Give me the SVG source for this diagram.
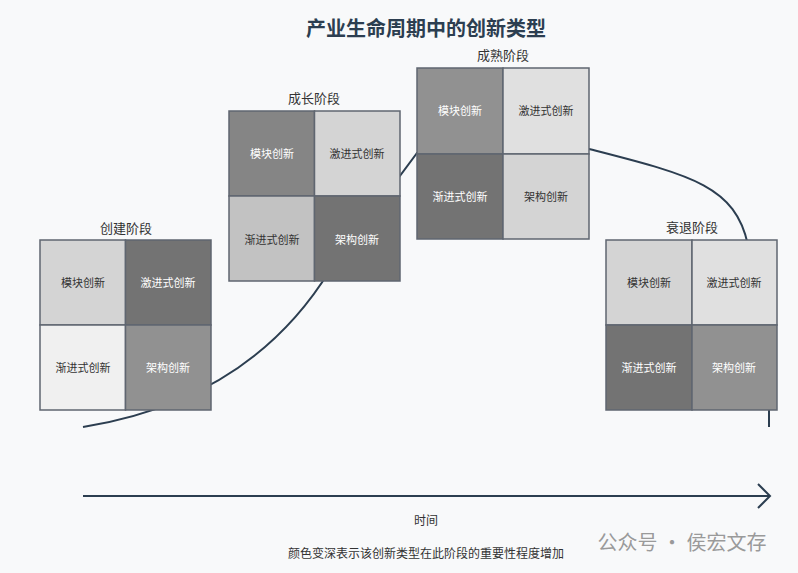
<svg xmlns="http://www.w3.org/2000/svg" width="798" height="573" viewBox="0 0 798 573">
<style>
text{font-family:"Noto Sans CJK SC","Noto Sans",sans-serif;text-anchor:middle;dominant-baseline:central}
.c{stroke:#5f6670;stroke-width:1.5}
.t{font-size:11px}
.w{fill:#fff}.k{fill:#333}
.lab{font-size:13px;fill:#333}
.cv{fill:none;stroke:#2c3e50;stroke-width:2}
</style>
<rect width="798" height="573" fill="#f8f9fa"/>
<text x="426" y="27" font-size="20" font-weight="bold" fill="#2c3e50">产业生命周期中的创新类型</text>
<g id="connectors">
<path class="cv" d="M83,427 Q250,400 330,270 L417,153 L589,149 C690,175 735,185 748,245 L769,410 L769,427"/>
<path d="M83,496 H770 M758,484 L770,496 L758,508" fill="none" stroke="#2c3e50" stroke-width="2"/>
</g>
<g id="stage1">
<text class="lab" x="126" y="227">创建阶段</text>
<rect class="c" x="40" y="240" width="85.5" height="85" fill="#d4d4d4"/>
<rect class="c" x="125.5" y="240" width="85.5" height="85" fill="#737373"/>
<rect class="c" x="40" y="325" width="85.5" height="85" fill="#f0f0f0"/>
<rect class="c" x="125.5" y="325" width="85.5" height="85" fill="#919191"/>
<text class="t k" x="83" y="282">模块创新</text><text class="t w" x="168" y="282">激进式创新</text>
<text class="t k" x="83" y="367">渐进式创新</text><text class="t w" x="168" y="367">架构创新</text>
</g>
<g id="stage2">
<text class="lab" x="314" y="97">成长阶段</text>
<rect class="c" x="229" y="111" width="85.5" height="85" fill="#858585"/>
<rect class="c" x="314.5" y="111" width="85.5" height="85" fill="#d4d4d4"/>
<rect class="c" x="229" y="196" width="85.5" height="85" fill="#c2c2c2"/>
<rect class="c" x="314.5" y="196" width="85.5" height="85" fill="#737373"/>
<text class="t w" x="272" y="153">模块创新</text><text class="t k" x="357" y="153">激进式创新</text>
<text class="t k" x="272" y="239">渐进式创新</text><text class="t w" x="357" y="239">架构创新</text>
</g>
<g id="stage3">
<text class="lab" x="503" y="54">成熟阶段</text>
<rect class="c" x="417" y="68" width="86" height="86" fill="#919191"/>
<rect class="c" x="503" y="68" width="86" height="86" fill="#e0e0e0"/>
<rect class="c" x="417" y="154" width="86" height="85" fill="#737373"/>
<rect class="c" x="503" y="154" width="86" height="85" fill="#d4d4d4"/>
<text class="t w" x="460" y="110">模块创新</text><text class="t k" x="546" y="110">激进式创新</text>
<text class="t w" x="460" y="196">渐进式创新</text><text class="t k" x="546" y="196">架构创新</text>
</g>
<g id="stage4">
<text class="lab" x="692" y="226">衰退阶段</text>
<rect class="c" x="606" y="240" width="86" height="85" fill="#d4d4d4"/>
<rect class="c" x="692" y="240" width="85" height="85" fill="#e0e0e0"/>
<rect class="c" x="606" y="325" width="86" height="85" fill="#737373"/>
<rect class="c" x="692" y="325" width="85" height="85" fill="#919191"/>
<text class="t k" x="649" y="282">模块创新</text><text class="t k" x="734" y="282">激进式创新</text>
<text class="t w" x="649" y="367">渐进式创新</text><text class="t w" x="734" y="367">架构创新</text>
</g>
<text x="426" y="519" font-size="12" fill="#333">时间</text>
<text x="426" y="552" font-size="12" fill="#333">颜色变深表示该创新类型在此阶段的重要性程度增加</text>
<text x="682" y="541" font-size="20" fill="#9a9a9a">公众号 · 侯宏文存</text>
</svg>
